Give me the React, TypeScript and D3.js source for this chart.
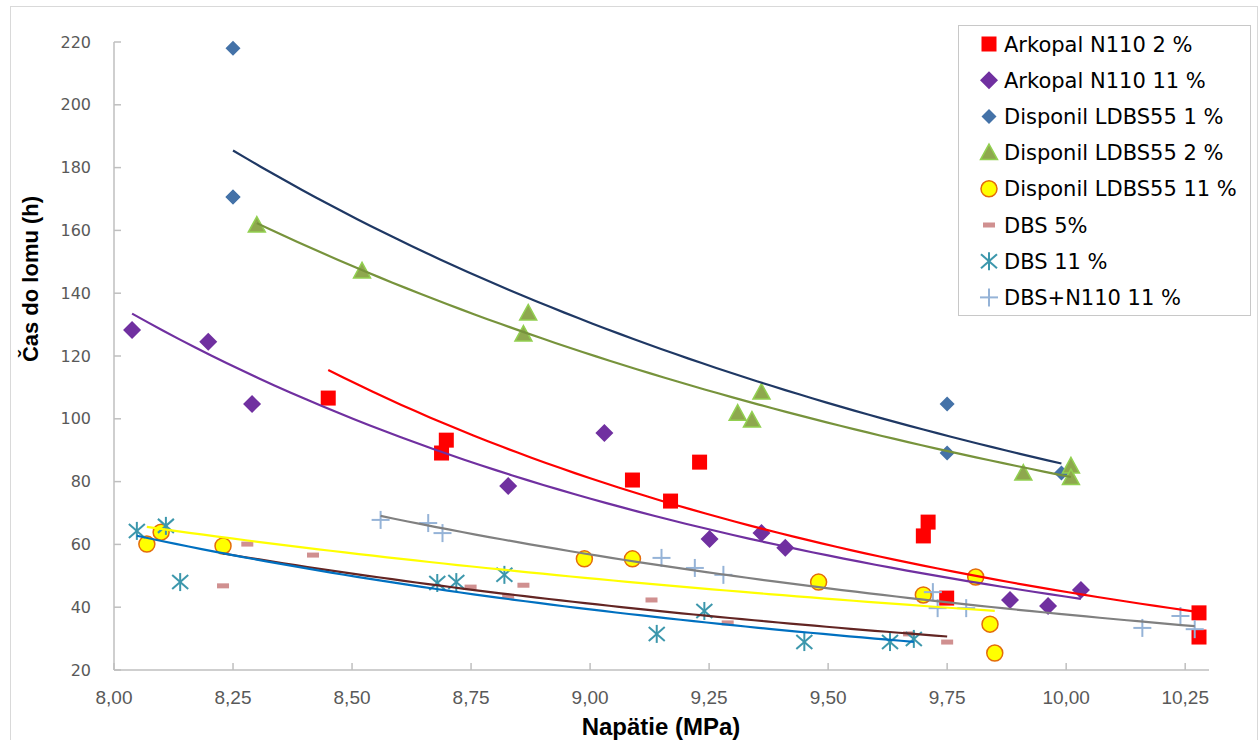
import React from "react";
import * as d3 from "d3";

// ---- data ----
const arkopal2X = [8.45, 8.688, 8.698, 9.089, 9.169, 9.23, 9.70, 9.71, 9.749, 10.279, 10.279];
const arkopal2Y = [106.6, 89.1, 93.2, 80.5, 73.8, 86.2, 62.7, 67.1, 42.9, 38.2, 30.5];

const arkopal11X = [8.038, 8.198, 8.29, 8.828, 9.03, 9.251, 9.36, 9.41, 9.882, 9.962, 10.031];
const arkopal11Y = [128.3, 124.5, 104.7, 78.6, 95.5, 61.7, 63.6, 58.9, 42.3, 40.4, 45.5];

// two measurements overlap at (8.25, ~170.6)
const disponil1X = [8.25, 8.25, 8.25, 9.75, 9.75, 9.99];
const disponil1Y = [218, 170.6, 170.6, 104.7, 89.1, 82.7];

const disponil2X = [8.30, 8.521, 8.86, 8.87, 9.31, 9.34, 9.36, 9.91, 10.01, 10.01];
const disponil2Y = [161.7, 147.1, 127, 133.7, 101.8, 99.6, 108.5, 82.7, 85, 81.3];

const disponil11X = [8.069, 8.099, 8.229, 8.988, 9.089, 9.48, 9.70, 9.81, 9.84, 9.85];
const disponil11Y = [60.1, 63.9, 59.5, 55.4, 55.4, 48, 43.9, 49.6, 34.6, 25.4];

const dbs5X = [8.229, 8.28, 8.418, 8.749, 8.828, 8.86, 9.129, 9.289, 9.67, 9.75];
const dbs5Y = [46.8, 60.1, 56.6, 46.4, 43.5, 47, 42.3, 35, 31.5, 28.9];

const dbs11X = [8.048, 8.109, 8.139, 8.679, 8.719, 8.82, 9.14, 9.24, 9.45, 9.63, 9.68];
const dbs11Y = [64.3, 65.9, 48, 47.7, 48, 50.3, 31.5, 38.8, 28.9, 28.9, 29.9];

const dbsN110X = [8.56, 8.66, 8.69, 9.15, 9.22, 9.28, 9.72, 9.73, 9.79, 10.16, 10.24, 10.27];
const dbsN110Y = [67.8, 66.8, 63.6, 55.7, 52.5, 50.3, 44.8, 39.7, 39.7, 33.4, 37.2, 33];

const seriesNames = [
  "Arkopal N110 2 %",
  "Arkopal N110 11 %",
  "Disponil LDBS55 1 %",
  "Disponil LDBS55 2 %",
  "Disponil LDBS55 11 %",
  "DBS 5%",
  "DBS 11 %",
  "DBS+N110 11 %",
];

const xTicks = [8.0, 8.25, 8.5, 8.75, 9.0, 9.25, 9.5, 9.75, 10.0, 10.25];
const yTicks = [20, 40, 60, 80, 100, 120, 140, 160, 180, 200, 220];

type Marker = "square" | "diamond" | "smalldiamond" | "triangle" | "circle" | "dash" | "star" | "plus";

const seriesDefs = [
  { name: seriesNames[0], xs: arkopal2X, ys: arkopal2Y, marker: "square" as Marker, fill: "#FF0000", stroke: "#FF0000", trend: "#FF0000" },
  { name: seriesNames[1], xs: arkopal11X, ys: arkopal11Y, marker: "diamond" as Marker, fill: "#7030A0", stroke: "#7030A0", trend: "#7030A0" },
  { name: seriesNames[2], xs: disponil1X, ys: disponil1Y, marker: "smalldiamond" as Marker, fill: "#4472A8", stroke: "#4472A8", trend: "#1F3864" },
  { name: seriesNames[3], xs: disponil2X, ys: disponil2Y, marker: "triangle" as Marker, fill: "#8EA84E", stroke: "#92D050", trend: "#77933C" },
  { name: seriesNames[4], xs: disponil11X, ys: disponil11Y, marker: "circle" as Marker, fill: "#FFFF00", stroke: "#E46C0A", trend: "#FFFF00" },
  { name: seriesNames[5], xs: dbs5X, ys: dbs5Y, marker: "dash" as Marker, fill: "#D09090", stroke: "#D09090", trend: "#632523" },
  { name: seriesNames[6], xs: dbs11X, ys: dbs11Y, marker: "star" as Marker, fill: "none", stroke: "#3C97AC", trend: "#0070C0" },
  { name: seriesNames[7], xs: dbsN110X, ys: dbsN110Y, marker: "plus" as Marker, fill: "none", stroke: "#95B3D7", trend: "#808080" },
];

// power trendline fit (ln y = ln a + b ln x), like a spreadsheet power trendline
function powerFit(xs: number[], ys: number[]) {
  const lx = xs.map(Math.log);
  const ly = ys.map(Math.log);
  const mx = d3.mean(lx)!;
  const my = d3.mean(ly)!;
  let sxy = 0, sxx = 0;
  lx.forEach((v, i) => { sxy += (v - mx) * (ly[i] - my); sxx += (v - mx) * (v - mx); });
  const b = sxy / sxx;
  const lnA = my - b * mx;
  return (x: number) => Math.exp(lnA + b * Math.log(x));
}

const W = 1260, H = 740;
const M = { left: 114, right: 1209, top: 42, bottom: 670 };

function MarkerShape({ type, cx, cy, fill, stroke }: { type: Marker; cx: number; cy: number; fill: string; stroke: string }) {
  switch (type) {
    case "square":
      return <rect x={cx - 7.5} y={cy - 7.5} width={15} height={15} fill={fill} />;
    case "diamond":
      return <path d={`M${cx},${cy - 9}L${cx + 9},${cy}L${cx},${cy + 9}L${cx - 9},${cy}Z`} fill={fill} />;
    case "smalldiamond":
      return <path d={`M${cx},${cy - 7.5}L${cx + 7.5},${cy}L${cx},${cy + 7.5}L${cx - 7.5},${cy}Z`} fill={fill} />;
    case "triangle":
      return <path d={`M${cx},${cy - 8.5}L${cx + 8.5},${cy + 7}L${cx - 8.5},${cy + 7}Z`} fill={fill} stroke={stroke} strokeWidth={1.5} />;
    case "circle":
      return <circle cx={cx} cy={cy} r={8} fill={fill} stroke={stroke} strokeWidth={1.5} />;
    case "dash":
      return <rect x={cx - 6} y={cy - 2.5} width={12} height={5} fill={fill} />;
    case "star":
      return (
        <g stroke={stroke} strokeWidth={2}>
          <line x1={cx} y1={cy - 9} x2={cx} y2={cy + 9} />
          <line x1={cx - 8} y1={cy - 7} x2={cx + 8} y2={cy + 7} />
          <line x1={cx - 8} y1={cy + 7} x2={cx + 8} y2={cy - 7} />
        </g>
      );
    case "plus":
      return (
        <g stroke={stroke} strokeWidth={2}>
          <line x1={cx} y1={cy - 9} x2={cx} y2={cy + 9} />
          <line x1={cx - 9} y1={cy} x2={cx + 9} y2={cy} />
        </g>
      );
  }
  return null;
}

export default function App() {
  const x = d3.scaleLinear().domain([8.0, 10.3]).range([M.left, M.right]);
  const y = d3.scaleLinear().domain([20, 220]).range([M.bottom, M.top]);
  const line = d3.line<[number, number]>().x((d) => x(d[0])).y((d) => y(d[1]));
  const fmt = (v: number) => v.toFixed(2).replace(".", ",");

  const trends = seriesDefs.map((s) => {
    const f = powerFit(s.xs, s.ys);
    const [x0, x1] = d3.extent(s.xs) as [number, number];
    const pts: [number, number][] = d3.range(0, 61).map((i) => {
      const xv = x0 + ((x1 - x0) * i) / 60;
      return [xv, f(xv)];
    });
    return { color: s.trend, d: line(pts) || "" };
  });

  const legendRowY = (i: number) => 44 + i * 36.2;
  const narrow = "'Liberation Sans Narrow', 'Arial Narrow', 'Liberation Sans', sans-serif";

  return (
    <svg width={W} height={H} style={{ position: "absolute", left: 0, top: 0, background: "#fff" }}>
      <rect x={0} y={0} width={W} height={H} fill="#fff" />
      <rect x={10.5} y={6.5} width={1247} height={740} fill="none" stroke="#d9d9d9" strokeWidth={1} />

      {/* axes */}
      <line x1={M.left} y1={M.top} x2={M.left} y2={M.bottom} stroke="#bfbfbf" strokeWidth={1.5} />
      <line x1={M.left} y1={M.bottom} x2={M.right} y2={M.bottom} stroke="#bfbfbf" strokeWidth={1.5} />
      {yTicks.map((t) => (
        <g key={"y" + t}>
          <line x1={M.left} x2={M.left + 7} y1={y(t)} y2={y(t)} stroke="#bfbfbf" strokeWidth={1.5} />
          <text x={91} y={y(t)} dy="0.35em" textAnchor="end" fontFamily="DejaVu Sans" fontSize={16} fill="#595959">
            {t}
          </text>
        </g>
      ))}
      {xTicks.map((t) => (
        <g key={"x" + t}>
          <line x1={x(t)} x2={x(t)} y1={M.bottom} y2={M.bottom - 7} stroke="#bfbfbf" strokeWidth={1.5} />
          <text x={x(t)} y={697} dy="0.35em" textAnchor="middle" fontFamily={narrow} fontSize={19} fill="#595959">
            {fmt(t)}
          </text>
        </g>
      ))}
      <text x={661} y={727} dy="0.35em" textAnchor="middle" fontFamily={narrow} fontWeight="bold" fontSize={24} fill="#000">
        Napätie (MPa)
      </text>
      <text transform="translate(30,279) rotate(-90)" dy="0.35em" textAnchor="middle" fontFamily={narrow} fontWeight="bold" fontSize={22} fill="#000">
        Čas do lomu (h)
      </text>

      {/* markers */}
      {seriesDefs.map((s, si) => (
        <g key={"s" + si}>
          {s.xs.map((xv, i) => (
            <MarkerShape key={i} type={s.marker} cx={x(xv)} cy={y(s.ys[i])} fill={s.fill} stroke={s.stroke} />
          ))}
        </g>
      ))}

      {/* trendlines */}
      {trends.map((t, i) => (
        <path key={"t" + i} d={t.d} fill="none" stroke={t.color} strokeWidth={2.2} />
      ))}

      {/* legend */}
      <rect x={958.5} y={25.5} width={292} height={290} fill="#fff" stroke="#c8c8c8" strokeWidth={1} />
      {seriesDefs.map((s, i) => (
        <g key={"l" + i}>
          <MarkerShape type={s.marker} cx={989} cy={legendRowY(i)} fill={s.fill} stroke={s.stroke} />
          <text x={1004} y={legendRowY(i)} dy="0.36em" fontFamily="DejaVu Sans" fontSize={21} fill="#000">
            {s.name}
          </text>
        </g>
      ))}
    </svg>
  );
}
